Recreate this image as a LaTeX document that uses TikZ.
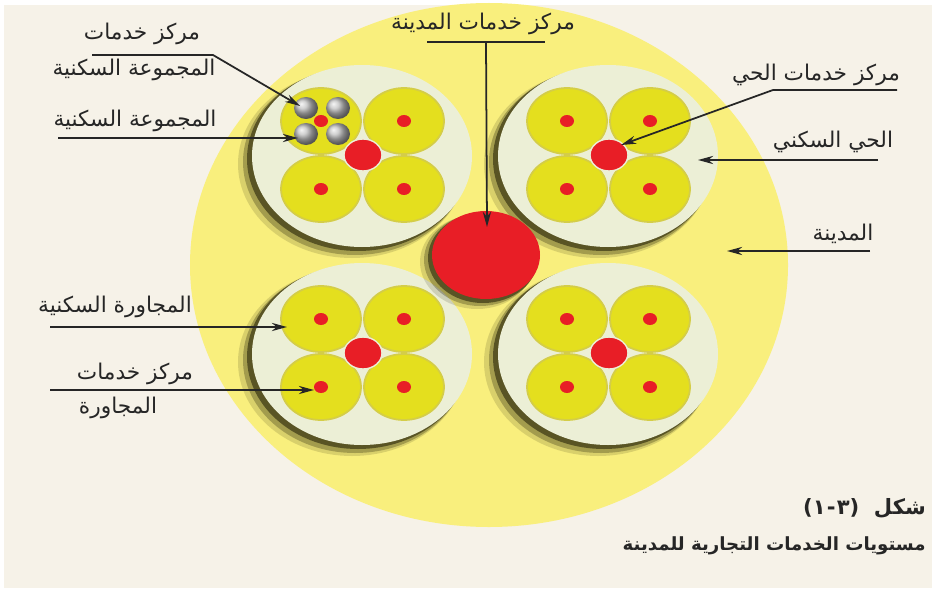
\documentclass[tikz,border=0pt]{standalone}
\usepackage{fontspec}
\usepackage{tikz}
\usetikzlibrary{arrows.meta}
\TeXXeTstate=1
\newfontfamily\arabicfont[Script=Arabic]{DejaVu Sans}
\definecolor{paper}{RGB}{246,242,232}
\definecolor{cityyellow}{RGB}{249,239,125}
\definecolor{districtcream}{RGB}{236,239,214}
\definecolor{unityellow}{RGB}{228,223,30}
\definecolor{unitrim}{RGB}{212,205,72}
\definecolor{svcred}{RGB}{232,30,38}
\definecolor{shadowolive}{RGB}{40,37,10}
\definecolor{inkgray}{RGB}{38,38,38}

\begin{document}
\begin{tikzpicture}[y=-.03cm, x=.03cm,
  lbl/.style={font=\arabicfont\fontsize{18.5}{21}\selectfont, text=inkgray, inner sep=0pt},
  figcap/.style={font=\arabicfont\bfseries\fontsize{#1}{20}\selectfont, text=inkgray, inner sep=0pt, anchor=east},
  lead/.style={draw=inkgray, line width=1.5pt},
  arr/.style={lead, -{Stealth[length=13pt,width=7pt]}},
  dropshade/.style={fill=shadowolive, opacity=#1},
  district/.style={fill=districtcream},
  unit/.style={fill=unityellow, draw=unitrim, line width=1.5pt},
  dot/.style={fill=svcred},
  hub/.style={fill=svcred, draw=districtcream, line width=1.2pt}]
			\useasboundingbox (0,0) rectangle (936,592);
			\fill[white] (0,0) rectangle (936,592);
			\fill[paper] (4,5) rectangle (932,588);

			% the city
			\fill[cityyellow] (489,265) ellipse [x radius=299, y radius=262];

			% districts: shadow first, then the disc
			\fill[dropshade=.15] (352,164) ellipse [x radius=114, y radius=94];
			\fill[dropshade=.3] (355,162) ellipse [x radius=112, y radius=93];
			\fill[dropshade=.6] (358,159) ellipse [x radius=111, y radius=92];
			\fill[district] (362,156) ellipse [x radius=110, y radius=91];
			\fill[dropshade=.15] (598,164) ellipse [x radius=114, y radius=94];
			\fill[dropshade=.3] (601,162) ellipse [x radius=112, y radius=93];
			\fill[dropshade=.6] (604,159) ellipse [x radius=111, y radius=92];
			\fill[district] (608,156) ellipse [x radius=110, y radius=91];
			\fill[dropshade=.15] (352,362) ellipse [x radius=114, y radius=94];
			\fill[dropshade=.3] (355,360) ellipse [x radius=112, y radius=93];
			\fill[dropshade=.6] (358,357) ellipse [x radius=111, y radius=92];
			\fill[district] (362,354) ellipse [x radius=110, y radius=91];
			\fill[dropshade=.15] (598,362) ellipse [x radius=114, y radius=94];
			\fill[dropshade=.3] (601,360) ellipse [x radius=112, y radius=93];
			\fill[dropshade=.6] (604,357) ellipse [x radius=111, y radius=92];
			\fill[district] (608,354) ellipse [x radius=110, y radius=91];

			% neighbourhoods
			\filldraw[unit] (321,121) ellipse [x radius=40, y radius=33];
			\filldraw[unit] (404,121) ellipse [x radius=40, y radius=33];
			\filldraw[unit] (321,189) ellipse [x radius=40, y radius=33];
			\filldraw[unit] (404,189) ellipse [x radius=40, y radius=33];
			\filldraw[unit] (567,121) ellipse [x radius=40, y radius=33];
			\filldraw[unit] (650,121) ellipse [x radius=40, y radius=33];
			\filldraw[unit] (567,189) ellipse [x radius=40, y radius=33];
			\filldraw[unit] (650,189) ellipse [x radius=40, y radius=33];
			\filldraw[unit] (321,319) ellipse [x radius=40, y radius=33];
			\filldraw[unit] (404,319) ellipse [x radius=40, y radius=33];
			\filldraw[unit] (321,387) ellipse [x radius=40, y radius=33];
			\filldraw[unit] (404,387) ellipse [x radius=40, y radius=33];
			\filldraw[unit] (567,319) ellipse [x radius=40, y radius=33];
			\filldraw[unit] (650,319) ellipse [x radius=40, y radius=33];
			\filldraw[unit] (567,387) ellipse [x radius=40, y radius=33];
			\filldraw[unit] (650,387) ellipse [x radius=40, y radius=33];

			% housing groups in the first neighbourhood
			\shade[ball color=gray!50] (306,108) ellipse [x radius=12, y radius=11];
			\shade[ball color=gray!50] (338,108) ellipse [x radius=12, y radius=11];
			\shade[ball color=gray!50] (306,134) ellipse [x radius=12, y radius=11];
			\shade[ball color=gray!50] (338,134) ellipse [x radius=12, y radius=11];

			% neighbourhood centres
			\fill[dot] (321,121) ellipse [x radius=7, y radius=6];
			\fill[dot] (404,121) ellipse [x radius=7, y radius=6];
			\fill[dot] (321,189) ellipse [x radius=7, y radius=6];
			\fill[dot] (404,189) ellipse [x radius=7, y radius=6];
			\fill[dot] (567,121) ellipse [x radius=7, y radius=6];
			\fill[dot] (650,121) ellipse [x radius=7, y radius=6];
			\fill[dot] (567,189) ellipse [x radius=7, y radius=6];
			\fill[dot] (650,189) ellipse [x radius=7, y radius=6];
			\fill[dot] (321,319) ellipse [x radius=7, y radius=6];
			\fill[dot] (404,319) ellipse [x radius=7, y radius=6];
			\fill[dot] (321,387) ellipse [x radius=7, y radius=6];
			\fill[dot] (404,387) ellipse [x radius=7, y radius=6];
			\fill[dot] (567,319) ellipse [x radius=7, y radius=6];
			\fill[dot] (650,319) ellipse [x radius=7, y radius=6];
			\fill[dot] (567,387) ellipse [x radius=7, y radius=6];
			\fill[dot] (650,387) ellipse [x radius=7, y radius=6];

			% district centres
			\filldraw[hub] (363,155) ellipse [x radius=19, y radius=16];
			\filldraw[hub] (609,155) ellipse [x radius=19, y radius=16];
			\filldraw[hub] (363,353) ellipse [x radius=19, y radius=16];
			\filldraw[hub] (609,353) ellipse [x radius=19, y radius=16];

			% city centre
			\fill[dropshade=.15] (477,262) ellipse [x radius=57, y radius=47];
			\fill[dropshade=.3] (480,260) ellipse [x radius=56, y radius=46];
			\fill[dropshade=.6] (483,258) ellipse [x radius=55, y radius=45];
			\fill[svcred] (486,255) ellipse [x radius=54, y radius=44];

			% labels
			\node[lbl] (grpsvc)  at (142,34)  {\beginR مركز خدمات\endR};
			\node[lbl] (grpsvcb) at (134,70)  {\beginR المجموعة السكنية\endR};
			\node[lbl] (grp)     at (135,121) {\beginR المجموعة السكنية\endR};
			\node[lbl] (citysvc) at (483,24)  {\beginR مركز خدمات المدينة\endR};
			\node[lbl] (distsvc) at (816,75)  {\beginR مركز خدمات الحي\endR};
			\node[lbl] (dist)    at (833,142) {\beginR الحي السكني\endR};
			\node[lbl] (city)    at (843,234) {\beginR المدينة\endR};
			\node[lbl] (nbr)     at (115,307) {\beginR المجاورة السكنية\endR};
			\node[lbl] (nbrsvc)  at (135,374) {\beginR مركز خدمات\endR};
			\node[lbl] (nbrsvcb) at (118,408) {\beginR المجاورة\endR};
			% number boxed glyph by glyph; the arabic font mirrors the brackets
			\node[figcap=18] (fig)   at (926,508) {\hbox{)}\hbox{١}\kern1pt\hbox{-}\kern1pt\hbox{٣}\hbox{(}\ \ \beginR شكل\endR};
			\node[figcap=15.5] (title) at (926,546) {\beginR مستويات الخدمات التجارية للمدينة\endR};

			% leaders
			\coordinate (grpsvcL) at (92,55);
			\coordinate (grpsvcR) at (213,55);
			\coordinate (grpsvcT) at (300,106);
			\coordinate (grpL) at (58,138);
			\coordinate (grpT) at (298,138);
			\coordinate (citysvcL) at (427,42);
			\coordinate (citysvcR) at (545,42);
			\coordinate (citysvcM) at (486,42);
			\coordinate (citysvcT) at (487,227);
			\coordinate (distsvcR) at (897,90);
			\coordinate (distsvcL) at (773,90);
			\coordinate (distsvcT) at (621,145);
			\coordinate (distR) at (878,160);
			\coordinate (distT) at (698,160);
			\coordinate (cityR) at (870,251);
			\coordinate (cityT) at (727,251);
			\coordinate (nbrL) at (50,327);
			\coordinate (nbrT) at (287,327);
			\coordinate (nbrsvcL) at (50,390);
			\coordinate (nbrsvcT) at (314,390);

			\draw[arr] (grpsvcL) -- (grpsvcR) -- (grpsvcT);
			\draw[arr] (grpL) -- (grpT);
			\draw[lead] (citysvcL) -- (citysvcR);
			\draw[arr] (citysvcM) -- (citysvcT);
			\draw[arr] (distsvcR) -- (distsvcL) -- (distsvcT);
			\draw[arr] (distR) -- (distT);
			\draw[arr] (cityR) -- (cityT);
			\draw[arr] (nbrL) -- (nbrT);
			\draw[arr] (nbrsvcL) -- (nbrsvcT);
		\end{tikzpicture}
\end{document}
